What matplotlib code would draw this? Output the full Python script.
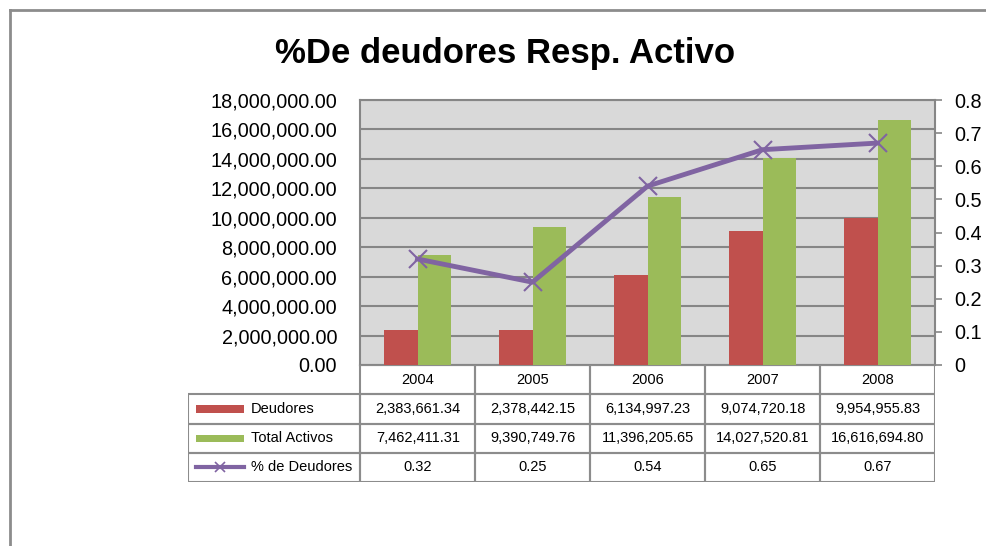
import matplotlib.pyplot as plt
from matplotlib.patches import Rectangle
from matplotlib.lines import Line2D
import numpy as np

plt.rcParams["font.family"] = ["Liberation Sans", "DejaVu Sans"]

years = ["2004", "2005", "2006", "2007", "2008"]
deudores = [2383661.34, 2378442.15, 6134997.23, 9074720.18, 9954955.83]
activos = [7462411.31, 9390749.76, 11396205.65, 14027520.81, 16616694.80]
pct = [0.32, 0.25, 0.54, 0.65, 0.67]
series_names = ["Deudores", "Total Activos", "% de Deudores"]

red = "#C0504D"
green = "#9BBB59"
purple = "#8064A2"
edge = "#868686"

W, H = 986, 546
fig = plt.figure(figsize=(W / 100, H / 100), dpi=100)

def fbox(x0, y0, x1, y1):
    return [x0 / W, 1 - y1 / H, (x1 - x0) / W, (y1 - y0) / H]

# outer chart frame (partially visible)
fig.add_artist(Line2D([10 / W, 1], [1 - 10 / H, 1 - 10 / H], color="#8c8c8c", lw=2))
fig.add_artist(Line2D([10 / W, 10 / W], [0, 1 - 10 / H], color="#8c8c8c", lw=2))

fig.text(505 / W, 1 - 53 / H, "%De deudores Resp. Activo", ha="center", va="center",
         fontsize=25, fontweight="bold")

ax = fig.add_axes(fbox(360, 100, 935, 365))
x = np.arange(len(years))
bw = 0.29
ax.bar(x - bw / 2, deudores, bw, color=red, zorder=3)
ax.bar(x + bw / 2, activos, bw, color=green, zorder=3)
ax.set_facecolor("#D9D9D9")
ax.set_xlim(-0.5, 4.5)
ax.set_ylim(0, 18000000)
ax.set_yticks(np.arange(0, 18000001, 2000000))
ax.set_yticklabels([f"{v:,.2f}" for v in np.arange(0, 18000001, 2000000)])
ax.set_xticks([])
ax.grid(axis="y", color=edge, lw=1.5, zorder=1)
for s in ax.spines.values():
    s.set_color(edge)
    s.set_linewidth(1.5)
ax.tick_params(axis="y", labelsize=14.3, length=0, pad=16.5)

ax2 = ax.twinx()
ax2.plot(x, pct, color=purple, lw=3.5, marker="x", markersize=13, mew=1.5, zorder=4)
ax2.set_ylim(0, 0.8)
ax2.set_yticks(np.arange(0, 0.81, 0.1))
ax2.set_yticklabels(["0"] + [f"{v:.1f}" for v in np.arange(0.1, 0.81, 0.1)])
ax2.tick_params(axis="y", labelsize=14.3, length=5, width=1.2, color=edge, pad=9)
for s in ax2.spines.values():
    s.set_visible(False)

# data table
tab = fig.add_axes(fbox(188, 365, 935, 482))
tab.set_xlim(-2, 4.5)
tab.set_ylim(4, 0)
tab.axis("off")
lc = "#8c8c8c"
tlw = 1.5
# header row
for i, yr in enumerate(years):
    tab.add_patch(Rectangle((i - 0.5, 0), 1, 1, fill=False, ec=lc, lw=tlw))
    tab.text(i, 0.5, yr, ha="center", va="center", fontsize=10.5)
rows = [[f"{v:,.2f}" for v in deudores],
        [f"{v:,.2f}" for v in activos],
        [f"{v:.2f}" for v in pct]]
for r, vals in enumerate(rows):
    y0 = r + 1
    tab.add_patch(Rectangle((-2, y0), 1.5, 1, fill=False, ec=lc, lw=tlw))
    for i, v in enumerate(vals):
        tab.add_patch(Rectangle((i - 0.5, y0), 1, 1, fill=False, ec=lc, lw=tlw))
        tab.text(i, y0 + 0.5, v, ha="center", va="center", fontsize=10.5)
    tab.text(-1.45, y0 + 0.5, series_names[r], ha="left", va="center", fontsize=10.5)

tab.add_patch(Rectangle((-1.93, 1.38), 0.42, 0.26, color=red, lw=0))
tab.add_patch(Rectangle((-1.93, 2.38), 0.42, 0.26, color=green, lw=0))
tab.plot([-1.93, -1.51], [3.5, 3.5], color=purple, lw=3)
tab.plot([-1.72], [3.5], color=purple, marker="x", markersize=7, mew=1.2)

fig.savefig("out.png", dpi=100)
